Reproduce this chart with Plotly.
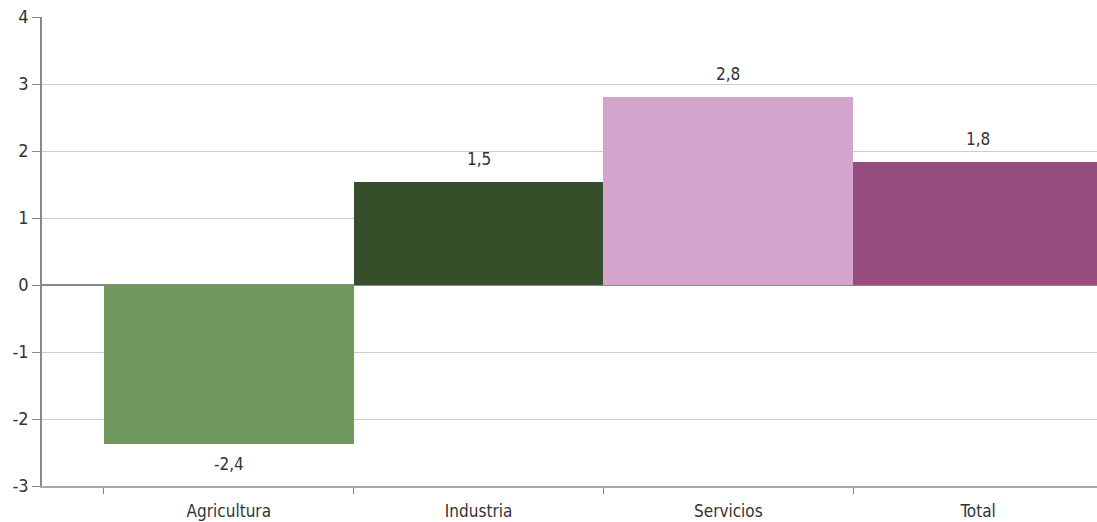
import plotly.graph_objects as go

categories = ["Agricultura", "Industria", "Servicios", "Total"]
values = [-2.38, 1.54, 2.8, 1.84]
colors = ["#70985C", "#354F2B", "#D3A5CC", "#944D7E"]
y_ticks = [-3, -2, -1, 0, 1, 2, 3, 4]

font_family = "DejaVu Sans Condensed, Roboto, Arial, sans-serif"

labels = [f"{v:.1f}".replace(".", ",") for v in values]

fig = go.Figure()
fig.add_trace(go.Bar(
    x=categories, y=values,
    marker=dict(color=colors, line=dict(width=0)),
    width=1,
))

# value labels sit a little above / below the bar end
for cat, v, lab in zip(categories, values, labels):
    fig.add_annotation(
        x=cat, y=v, text=lab, showarrow=False,
        yanchor="bottom" if v >= 0 else "top",
        yshift=11 if v >= 0 else -8,
        font=dict(size=17, color="#333333", family=font_family),
    )

fig.update_layout(
    width=1097, height=522,
    margin=dict(l=42, r=0, t=17, b=36),
    plot_bgcolor="white", paper_bgcolor="white",
    showlegend=False,
    bargap=0,
    font=dict(family=font_family, size=17, color="#333333"),
)
fig.update_xaxes(
    type="category", range=[-0.748, 3.476], automargin=False,
    tickson="boundaries", ticks="outside", ticklen=6, tickcolor="#888888",
    ticklabelstandoff=9,
    showgrid=False, showline=True, linecolor="#a8a8a8", linewidth=2,
    tickfont=dict(size=17, color="#333333"),
)
fig.update_yaxes(
    range=[-3, 4], tickvals=y_ticks, ticktext=[str(t) for t in y_ticks],
    automargin=False,
    ticks="outside", ticklen=8, tickcolor="#888888",
    showgrid=True, gridcolor="#cccccc", gridwidth=1,
    zeroline=True, zerolinecolor="#888888", zerolinewidth=1.5,
    showline=True, linecolor="#888888", linewidth=1.5,
    tickfont=dict(size=18, color="#333333"),
)

fig.write_html("out.html", config={"displayModeBar": False},
               post_script="document.body.style.margin='0';")
